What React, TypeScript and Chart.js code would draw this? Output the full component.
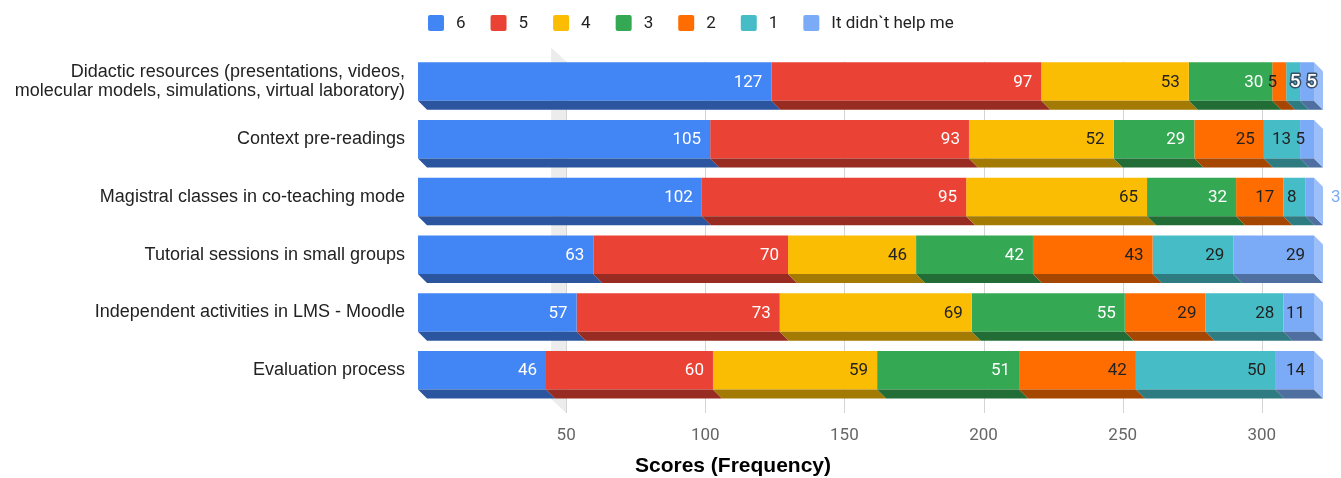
import { useEffect, useRef } from "react";
import { Chart, registerables } from "chart.js";

Chart.register(...registerables);

// ---------- data ----------
const categories: (string | string[])[] = [
  ["Didactic resources (presentations, videos,", "molecular models, simulations, virtual laboratory)"],
  "Context pre-readings",
  "Magistral classes in co-teaching mode",
  "Tutorial sessions in small groups",
  "Independent activities in LMS - Moodle",
  "Evaluation process",
];
const seriesNames = ["6", "5", "4", "3", "2", "1", "It didn`t help me"];
const score6 = [127, 105, 102, 63, 57, 46];
const score5 = [97, 93, 95, 70, 73, 60];
const score4 = [53, 52, 65, 46, 69, 59];
const score3 = [30, 29, 32, 42, 55, 51];
const score2 = [5, 25, 17, 43, 29, 42];
const score1 = [5, 13, 8, 29, 28, 50];
const noHelp = [5, 5, 3, 29, 11, 14];
const xTicks = [50, 100, 150, 200, 250, 300];
const xMax = 322;
const axisTitle = "Scores (Frequency)";

// ---------- style ----------
const colors = ["#4285F4", "#EA4335", "#FBBC04", "#34A853", "#FF6D01", "#46BDC6", "#7BAAF7"];
const labelColors = ["#ffffff", "#ffffff", "#222222", "#ffffff", "#222222", "#222222", "#222222"];
const OUTLINED = ["0-5", "0-6"];
const OUTSIDE = ["2-6"];
const DEPTH = 9;
const ROBOTO = "Roboto, 'Noto Sans', sans-serif";
const ARIAL = "'Liberation Sans', Arial, sans-serif";

function shade(hex: string, f: number) {
  const n = parseInt(hex.slice(1), 16);
  const r = (n >> 16) & 255, g = (n >> 8) & 255, b = n & 255;
  const m = (c: number) => Math.round(f < 1 ? c * f : c + (255 - c) * (f - 1));
  return `rgb(${m(r)},${m(g)},${m(b)})`;
}

const threeD = {
  id: "threeD",
  beforeDatasetsDraw(chart: any) {
    const { ctx, chartArea, scales } = chart;
    const x = scales.x;
    ctx.save();
    const x0 = x.getPixelForValue(xTicks[0]);
    ctx.fillStyle = "#ececec";
    ctx.beginPath();
    ctx.moveTo(x0 - 6, chartArea.top - 5);
    ctx.lineTo(x0 + DEPTH, chartArea.top + DEPTH);
    ctx.lineTo(x0 + DEPTH, chartArea.bottom + 14);
    ctx.lineTo(x0 - 6, chartArea.bottom);
    ctx.closePath();
    ctx.fill();
    ctx.strokeStyle = "#d4d4d4";
    ctx.lineWidth = 1;
    xTicks.forEach((v) => {
      const px = Math.round(x.getPixelForValue(v) + DEPTH) + 0.5;
      ctx.beginPath();
      ctx.moveTo(px, chartArea.top + DEPTH);
      ctx.lineTo(px, chartArea.bottom + 14);
      ctx.stroke();
    });
    ctx.restore();
  },
  afterDatasetsDraw(chart: any) {
    const { ctx } = chart;
    const n = chart.data.datasets.length;
    ctx.save();
    for (let d = 0; d < n; d++) {
      const meta = chart.getDatasetMeta(d);
      meta.data.forEach((bar: any) => {
        const top = bar.y - bar.height / 2;
        const bot = bar.y + bar.height / 2;
        const x1 = bar.base, x2 = bar.x;
        ctx.fillStyle = shade(colors[d], 0.65);
        ctx.beginPath();
        ctx.moveTo(x1, bot);
        ctx.lineTo(x2, bot);
        ctx.lineTo(x2 + DEPTH, bot + DEPTH);
        ctx.lineTo(x1 + DEPTH, bot + DEPTH);
        ctx.closePath();
        ctx.fill();
        if (d === n - 1) {
          ctx.fillStyle = shade(colors[d], 1.25);
          ctx.beginPath();
          ctx.moveTo(x2, top);
          ctx.lineTo(x2 + DEPTH, top + DEPTH);
          ctx.lineTo(x2 + DEPTH, bot + DEPTH);
          ctx.lineTo(x2, bot);
          ctx.closePath();
          ctx.fill();
        }
      });
    }
    ctx.textBaseline = "middle";
    for (let d = 0; d < n; d++) {
      const meta = chart.getDatasetMeta(d);
      meta.data.forEach((bar: any, i: number) => {
        const val = chart.data.datasets[d].data[i];
        const txt = String(val);
        const key = `${i}-${d}`;
        const y = bar.y + 1;
        ctx.font = `17px ${ROBOTO}`;
        if (OUTSIDE.includes(key)) {
          ctx.textAlign = "left";
          ctx.fillStyle = colors[d];
          ctx.fillText(txt, bar.x + DEPTH + 8, y);
        } else if (OUTLINED.includes(key)) {
          const cx = d === n - 1 ? (bar.base + bar.x + DEPTH) / 2 : (bar.base + bar.x) / 2 + 2;
          ctx.font = `500 19px ${ROBOTO}`;
          ctx.textAlign = "center";
          ctx.lineWidth = 3;
          ctx.lineJoin = "round";
          ctx.strokeStyle = "rgba(50,70,90,0.9)";
          ctx.strokeText(txt, cx, y);
          ctx.fillStyle = "#ffffff";
          ctx.fillText(txt, cx, y);
        } else {
          ctx.textAlign = "right";
          ctx.fillStyle = labelColors[d];
          ctx.fillText(txt, bar.x - 9, y);
        }
      });
    }
    ctx.restore();
  },
  afterDraw(chart: any) {
    const { ctx, chartArea } = chart;
    ctx.save();
    ctx.font = `17px ${ROBOTO}`;
    ctx.textBaseline = "middle";
    ctx.textAlign = "left";
    let lx = chartArea.left + 10;
    const ly = 23;
    seriesNames.forEach((name, d) => {
      ctx.fillStyle = colors[d];
      ctx.beginPath();
      (ctx as any).roundRect(lx, ly - 8, 16, 16, 2);
      ctx.fill();
      ctx.fillStyle = "#222222";
      ctx.fillText(name, lx + 28, ly + 1);
      lx += 28 + ctx.measureText(name).width + 25;
    });
    ctx.font = `bold 21px ${ARIAL}`;
    ctx.textAlign = "center";
    ctx.fillStyle = "#000000";
    ctx.fillText(axisTitle, 733, 466);
    ctx.restore();
  },
};

export default function App() {
  const ref = useRef<HTMLCanvasElement>(null);
  useEffect(() => {
    if (!ref.current) return;
    const series = [score6, score5, score4, score3, score2, score1, noHelp];
    const chart = new Chart(ref.current, {
      type: "bar",
      data: {
        labels: categories,
        datasets: series.map((s, d) => ({
          label: seriesNames[d],
          data: s,
          backgroundColor: colors[d],
          borderWidth: 0,
          barPercentage: 0.667,
          categoryPercentage: 1,
        })),
      },
      options: {
        indexAxis: "y",
        responsive: false,
        animation: false,
        layout: { padding: { top: 52.6, right: 27, bottom: 0, left: 0 } },
        plugins: { legend: { display: false }, tooltip: { enabled: false } },
        scales: {
          x: {
            stacked: true,
            min: 0,
            max: xMax,
            afterBuildTicks: (scale: any) => {
              scale.ticks = xTicks.map((v) => ({ value: v }));
            },
            afterFit: (scale: any) => {
              scale.height = 79;
            },
            grid: { display: false, drawTicks: false },
            border: { display: false },
            ticks: {
              font: { family: ROBOTO, size: 17 },
              color: "#666666",
              padding: 27,
              labelOffset: DEPTH,
              maxRotation: 0,
            },
          },
          y: {
            stacked: true,
            afterFit: (scale: any) => {
              scale.width = 418;
            },
            grid: { display: false, drawTicks: false },
            border: { display: false },
            ticks: {
              font: { family: ARIAL, size: 18, lineHeight: "19px" },
              color: "#222222",
              padding: 13,
            },
          },
        },
      },
      plugins: [threeD],
    });
    return () => chart.destroy();
  }, []);
  return (
    <div style={{ position: "absolute", left: 0, top: 0, width: 1341, height: 478, background: "#fff" }}>
      <canvas ref={ref} width={1341} height={478} />
    </div>
  );
}
